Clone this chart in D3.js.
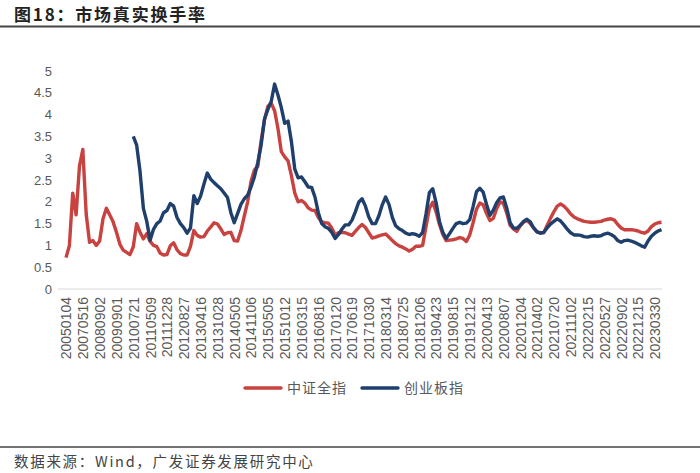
<!DOCTYPE html>
<html><head><meta charset="utf-8">
<script src="https://cdn.jsdelivr.net/npm/d3@7/dist/d3.min.js"></script>
<style>
html,body{margin:0;padding:0;background:#fff;}
svg{display:block;}
</style></head>
<body>
<script>
// ---- data ----
const tickLabels = ["20050104","20070516","20080902","20090901","20100721","20110509","20111228","20120827","20130416","20131028","20140505","20141106","20150505","20151012","20160315","20160816","20170120","20170619","20171030","20180314","20180725","20181206","20190423","20190815","20191212","20200413","20200807","20201204","20210402","20210720","20211102","20220215","20220527","20220902","20221215","20230330"];
// one label every 5 observations
const labelEvery = 5;
const csiAll = [0.72,0.99,2.2,1.7,2.82,3.2,1.72,1.07,1.11,1.0,
1.1,1.61,1.85,1.7,1.54,1.3,1.03,0.89,0.84,0.79,
0.97,1.5,1.3,1.15,1.27,1.09,1.0,0.97,0.82,0.78,
0.79,0.99,1.06,0.9,0.81,0.78,0.78,0.98,1.34,1.23,
1.19,1.2,1.33,1.42,1.52,1.49,1.38,1.25,1.29,1.3,
1.11,1.1,1.34,1.68,2.0,2.47,2.73,2.81,3.4,3.88,
4.19,4.26,4.09,3.68,3.15,3.03,2.94,2.6,2.2,2.0,
2.03,1.97,1.86,1.81,1.8,1.64,1.54,1.52,1.51,1.4,
1.24,1.29,1.3,1.29,1.26,1.23,1.32,1.41,1.48,1.41,
1.29,1.17,1.19,1.22,1.24,1.26,1.19,1.11,1.04,0.99,
0.96,0.92,0.87,0.91,0.98,0.98,1.0,1.43,1.85,1.99,
1.77,1.48,1.25,1.11,1.12,1.13,1.15,1.18,1.16,1.09,
1.24,1.52,1.83,1.97,1.93,1.73,1.57,1.62,1.84,2.0,
1.96,1.74,1.46,1.38,1.32,1.45,1.53,1.57,1.5,1.4,
1.31,1.29,1.29,1.46,1.62,1.77,1.9,1.95,1.9,1.82,
1.72,1.65,1.61,1.58,1.55,1.54,1.53,1.53,1.54,1.55,
1.58,1.6,1.61,1.58,1.48,1.4,1.36,1.36,1.36,1.35,
1.33,1.3,1.28,1.33,1.43,1.49,1.52,1.53];
const chiNext = [null,null,null,null,null,null,null,null,null,null,
null,null,null,null,null,null,null,null,null,null,
3.5,3.3,2.7,1.85,1.55,1.12,1.37,1.5,1.56,1.75,
1.8,1.96,1.9,1.64,1.5,1.41,1.28,1.4,2.14,1.96,
2.13,2.41,2.66,2.52,2.44,2.37,2.3,2.2,2.1,1.75,
1.52,1.73,1.94,2.07,2.15,2.34,2.57,2.9,3.3,3.9,
4.12,4.3,4.7,4.45,4.16,3.8,3.85,3.38,2.75,2.55,
2.57,2.46,2.34,2.33,2.11,1.75,1.5,1.43,1.39,1.3,
1.16,1.25,1.37,1.47,1.47,1.58,1.77,1.99,2.07,1.9,
1.65,1.5,1.5,1.68,1.93,2.11,1.94,1.64,1.45,1.38,
1.34,1.28,1.25,1.27,1.25,1.21,1.3,1.72,2.21,2.3,
1.98,1.55,1.3,1.16,1.27,1.39,1.5,1.53,1.5,1.51,
1.59,1.89,2.23,2.31,2.22,1.94,1.69,1.81,1.98,2.09,
2.11,1.86,1.52,1.4,1.39,1.46,1.55,1.6,1.54,1.4,
1.31,1.28,1.3,1.4,1.49,1.55,1.61,1.56,1.47,1.37,
1.29,1.24,1.24,1.23,1.2,1.19,1.21,1.22,1.21,1.22,
1.26,1.28,1.25,1.2,1.11,1.07,1.11,1.12,1.1,1.07,
1.03,0.99,0.96,1.1,1.21,1.28,1.33,1.36];
const yTicks = [0,0.5,1,1.5,2,2.5,3,3.5,4,4.5,5];
const seriesNames = ["中证全指","创业板指"];
const seriesColors = ["#c8423f","#1f3f6d"];

// ---- chart ----
const W = 700, H = 473;
const svg = d3.select("body").append("svg").attr("width", W).attr("height", H);
const font = "'Liberation Sans', Arial, sans-serif";
const cjk = "'Noto Sans CJK SC', sans-serif";
const textCol = "#595959";

svg.append("text").attr("x", 14).attr("y", 21)
  .attr("font-family", cjk).attr("font-weight", "bold").attr("font-size", 17)
  .attr("letter-spacing", 1.8)
  .attr("fill", "#222").text("图18：市场真实换手率");
svg.append("line").attr("x1", 0).attr("x2", W).attr("y1", 26.5).attr("y2", 26.5)
  .attr("stroke", "#444").attr("stroke-width", 2);

const n = csiAll.length;
const x = d3.scaleLinear().domain([0, n - 1]).range([66, 661.5]);
const y = d3.scaleLinear().domain([0, 5]).range([289, 71]);

// y labels
svg.append("g").attr("transform", "translate(52,0)")
  .call(d3.axisLeft(y).tickValues(yTicks).tickSize(0).tickPadding(0).tickFormat(d3.format("~g")))
  .call(g => g.select(".domain").remove())
  .call(g => g.selectAll("text").attr("font-family", font).attr("font-size", 13).attr("fill", textCol));

// x axis
const tickIdx = tickLabels.map((d, i) => i * labelEvery);
svg.append("g").attr("transform", "translate(0,289)")
  .call(d3.axisBottom(x).tickValues(tickIdx).tickSize(0).tickFormat((d, i) => tickLabels[i]))
  .call(g => g.select(".domain").attr("stroke", "#d9d9d9").attr("stroke-width", 1.2).attr("d", "M58,0H662"))
  .call(g => g.selectAll("text")
    .attr("font-family", font).attr("font-size", 14).attr("fill", textCol)
    .attr("transform", "rotate(-90)").attr("text-anchor", "end")
    .attr("x", -8).attr("y", 0).attr("dy", "0.35em"));

const line = d3.line().defined(d => d != null).x((d, i) => x(i)).y(d => y(d)).curve(d3.curveLinear);
[csiAll, chiNext].forEach((s, k) => {
  svg.append("path").datum(s).attr("d", line).attr("fill", "none")
    .attr("stroke", seriesColors[k]).attr("stroke-width", 3.4).attr("stroke-linejoin", "round");
});

// legend
const legX = [245, 362];
seriesNames.forEach((nm, k) => {
  svg.append("line").attr("x1", legX[k]).attr("x2", legX[k] + 36).attr("y1", 388).attr("y2", 388)
    .attr("stroke", seriesColors[k]).attr("stroke-width", 3.4).attr("stroke-linecap", "round");
  svg.append("text").attr("x", legX[k] + 42).attr("y", 393)
    .attr("font-family", cjk).attr("font-size", 14).attr("fill", textCol)
    .attr("letter-spacing", 1).text(nm);
});

svg.append("line").attr("x1", 0).attr("x2", W).attr("y1", 447).attr("y2", 447)
  .attr("stroke", "#444").attr("stroke-width", 1.5);
svg.append("text").attr("x", 14).attr("y", 467)
  .attr("font-family", cjk).attr("font-size", 14.5).attr("fill", "#444")
  .attr("letter-spacing", 1.7)
  .text("数据来源：Wind，广发证券发展研究中心");
</script>
</body></html>
